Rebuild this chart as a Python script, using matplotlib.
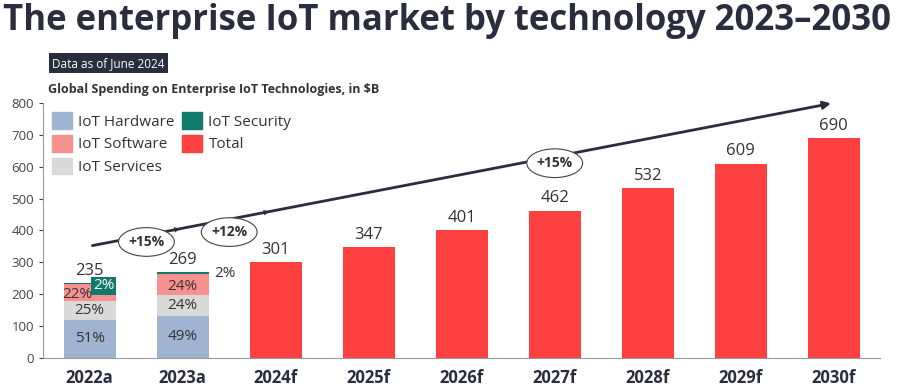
import matplotlib.pyplot as plt
from matplotlib.patches import Ellipse, Patch

plt.rcParams["font.family"] = ["Open Sans", "DejaVu Sans"]

YEARS = ["2022a", "2023a", "2024f", "2025f", "2026f", "2027f", "2028f", "2029f", "2030f"]
TOTALS = [235, 269, 301, 347, 401, 462, 532, 609, 690]

# actual years split by segment ($B)
HARDWARE = [120, 132]
SERVICES = [59, 65]
SOFTWARE = [52, 66]
SECURITY = [4, 6]
HW_PCT = ["51%", "49%"]
SV_PCT = ["25%", "24%"]
SW_PCT = ["22%", "24%"]
SEC_PCT = ["2%", "2%"]

# growth annotations: (x, y, label)
CAGR = [(0.61, 364, "+15%"), (1.5, 395, "+12%"), (5.0, 611, "+15%")]

C_HW = "#9fb4d0"
C_SW = "#f7918f"
C_SV = "#d9d9d9"
C_SEC = "#0f7a69"
C_TOT = "#ff4040"
DARK = "#2a2d3e"
TXT = "#333333"

fig = plt.figure(figsize=(9, 3.9), dpi=100)
ax = fig.add_axes([0.048, 0.082, 0.93, 0.654])

W = 0.56
n_act = len(HARDWARE)
xa = list(range(n_act))
b2 = [h + s for h, s in zip(HARDWARE, SERVICES)]
b3 = [b + s for b, s in zip(b2, SOFTWARE)]
ax.bar(xa, HARDWARE, W, color=C_HW)
ax.bar(xa, SERVICES, W, bottom=HARDWARE, color=C_SV)
ax.bar(xa, SOFTWARE, W, bottom=b2, color=C_SW)
ax.bar(xa, SECURITY, W, bottom=b3, color=C_SEC)

xf = list(range(n_act, len(YEARS)))
ax.bar(xf, TOTALS[n_act:], W, color=C_TOT)

for i in xa:
    ax.text(i, HARDWARE[i] / 2, HW_PCT[i], ha="center", va="center", fontsize=11, color=TXT)
    ax.text(i, HARDWARE[i] + SERVICES[i] / 2, SV_PCT[i], ha="center", va="center", fontsize=11, color=TXT)
    dx = -0.13 if i == 0 else 0
    ax.text(i + dx, b2[i] + SOFTWARE[i] / 2 - 5, SW_PCT[i], ha="center", va="center", fontsize=11, color=TXT)

# security labels
ax.text(0.15, 226, SEC_PCT[0], ha="center", va="center", fontsize=11, color="white",
        bbox=dict(boxstyle="square,pad=0.1", fc=C_SEC, ec="none"))
ax.text(1.45, 266, SEC_PCT[1], ha="center", va="center", fontsize=11, color=TXT)

for i, v in enumerate(TOTALS):
    ax.text(i, v + 14, str(v), ha="center", va="bottom", fontsize=12, color=TXT)

# trend arrow
ax.annotate("", xy=(8, 800), xytext=(0, 351),
            arrowprops=dict(arrowstyle="-|>", color=DARK, lw=2, mutation_scale=11))
for x0 in (0.97, 1.93):
    y0 = 351 + (800 - 351) * x0 / 8
    ax.annotate("", xy=(x0, y0), xytext=(x0 - 0.05, y0 - 2.8),
                arrowprops=dict(arrowstyle="-|>", color=DARK, lw=0, mutation_scale=10))
for x, y, lab in CAGR:
    ax.add_patch(Ellipse((x, y), 0.6, 90, fc="white", ec="#444444", lw=0.8, zorder=5))
    ax.text(x, y, lab, ha="center", va="center", fontsize=10, fontweight="bold",
            color=TXT, zorder=6)

ax.set_xlim(-0.5, 8.5)
ax.set_ylim(0, 800)
ax.set_yticks(range(0, 801, 100))
ax.set_xticks(range(len(YEARS)))
ax.set_xticklabels(YEARS, fontsize=12, fontweight="bold", color=DARK)
ax.tick_params(axis="y", labelsize=9.5, colors="#444444", length=3)
ax.tick_params(axis="x", length=0, pad=8)
for s in ("top", "right"):
    ax.spines[s].set_visible(False)
for s in ("left", "bottom"):
    ax.spines[s].set_color("#9a9a9a")

handles = [Patch(color=C_HW, label="IoT Hardware"), Patch(color=C_SW, label="IoT Software"),
           Patch(color=C_SV, label="IoT Services"), Patch(color=C_SEC, label="IoT Security"),
           Patch(color=C_TOT, label="Total")]
ax.legend(handles=handles, ncol=2, loc="upper left", bbox_to_anchor=(0.0, 1.0),
          frameon=False, fontsize=11, handlelength=1.3, handleheight=1.3,
          handletextpad=0.4, columnspacing=0.5, labelspacing=0.35, borderaxespad=0.2,
          labelcolor=TXT)

fig.text(0.003, 0.945, "The enterprise IoT market by technology 2023\u20132030",
         fontsize=25, fontweight="bold", color=DARK, va="center", ha="left")
fig.text(0.058, 0.838, "Data as of June 2024", fontsize=8.5, color="white", va="center",
         ha="left", bbox=dict(boxstyle="square,pad=0.3", fc=DARK, ec="none"))
fig.text(0.053, 0.77, "Global Spending on Enterprise IoT Technologies, in $B",
         fontsize=9, fontweight="bold", color=TXT, va="center", ha="left")

fig.savefig("out.png", dpi=100)
